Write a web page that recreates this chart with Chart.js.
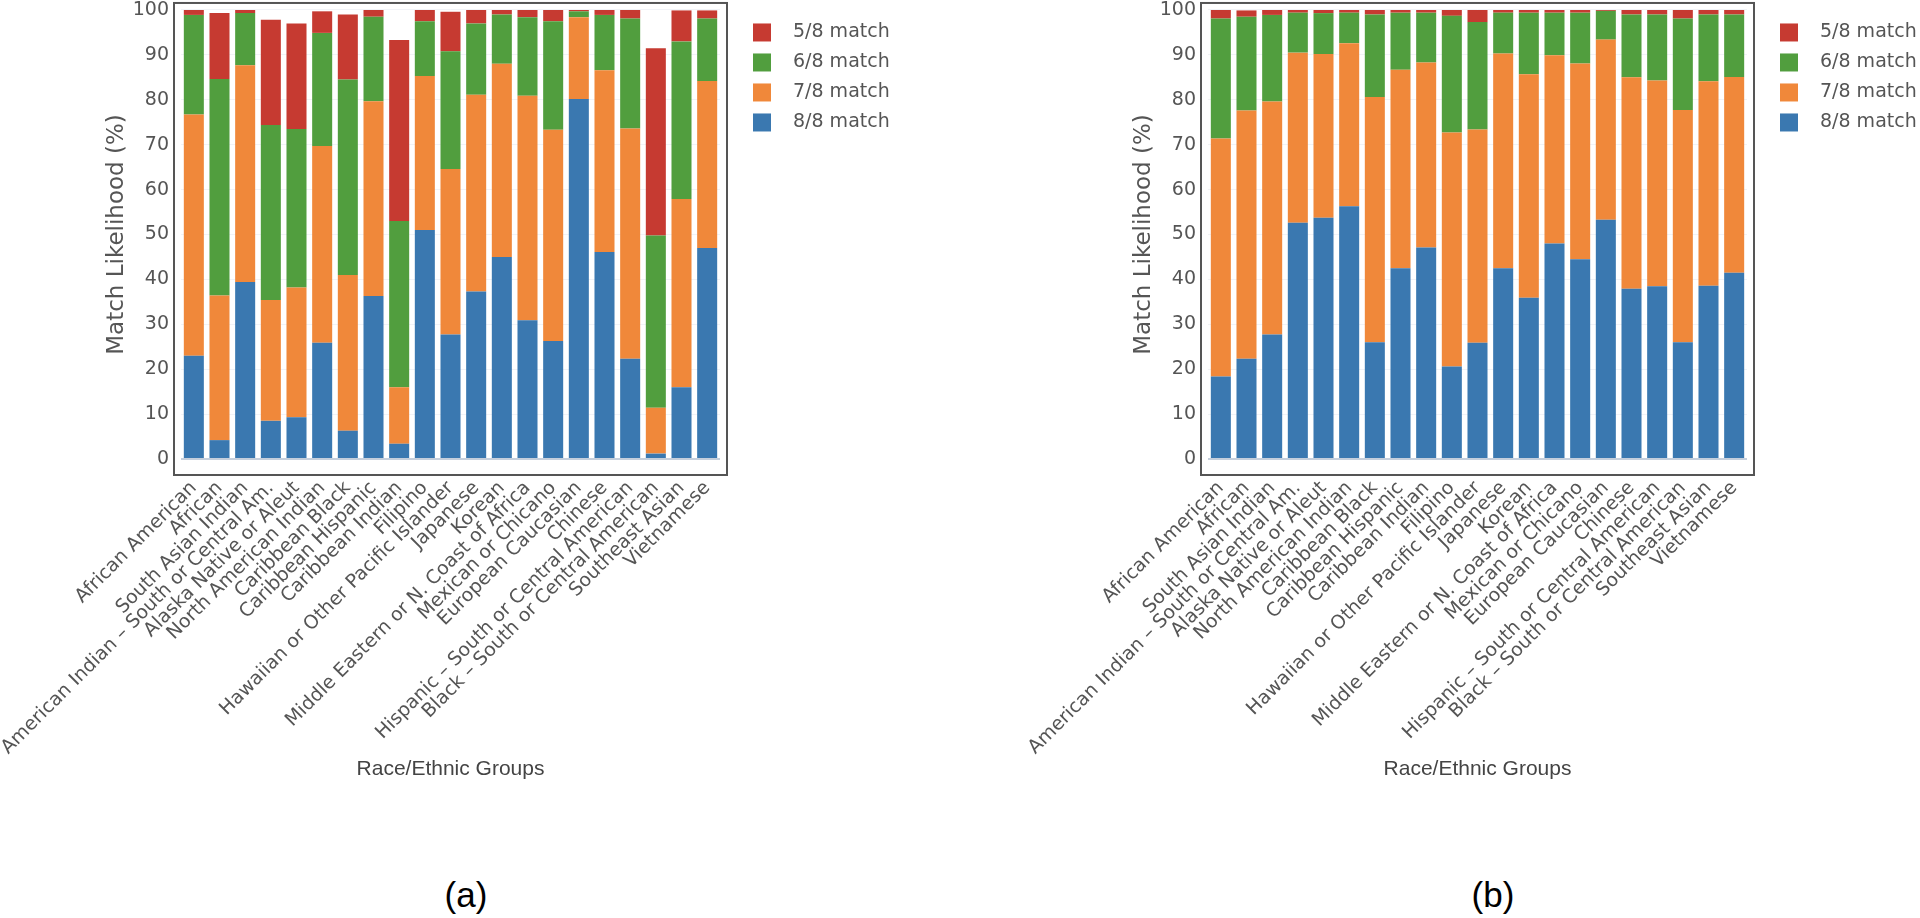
<!DOCTYPE html>
<html lang="en">
<head>
<meta charset="UTF-8">
<title>Match Likelihood by Race/Ethnic Group</title>
<style>
body {
    margin: 0;
    background: #fff;
    width: 1920px;
    height: 918px;
    position: relative;
    overflow: hidden;
}
.panel {
    position: absolute;
    top: 0;
}
.cap {
    position: absolute;
    top: 875px;
    line-height: 40px;
    font-family: "Liberation Sans", sans-serif;
    font-size: 35px;
    color: #000;
    transform: translateX(-50%);
}
</style>
</head>
<body>
<div class="panel" style="left:0px"><canvas id="chartA" width="893" height="782"></canvas></div>
<div class="panel" style="left:1027px"><canvas id="chartB" width="893" height="782"></canvas></div>
<div class="cap" style="left:466px">(a)</div>
<div class="cap" style="left:1493px">(b)</div>

<script src="https://cdn.jsdelivr.net/npm/chart.js"></script>
<script>
const groups = [
    'African American', 'African', 'South Asian Indian',
    'American Indian – South or Central Am.', 'Alaska Native or Aleut',
    'North American Indian', 'Caribbean Black', 'Caribbean Hispanic',
    'Caribbean Indian', 'Filipino', 'Hawaiian or Other Pacific Islander',
    'Japanese', 'Korean', 'Middle Eastern or N. Coast of Africa',
    'Mexican or Chicano', 'European Caucasian', 'Chinese',
    'Hispanic – South or Central American', 'Black – South or Central American',
    'Southeast Asian', 'Vietnamese'
];
const seriesNames = ['8/8 match', '7/8 match', '6/8 match', '5/8 match'];
const seriesColors = ['#3a78b0', '#f0883a', '#519e3e', '#c63a31'];

// panel (a)
const a88 = [23.0, 4.2, 39.4, 8.5, 9.3, 25.9, 6.3, 36.3, 3.4, 51.0, 27.7, 37.3, 45.0, 30.9, 26.3, 80.2, 46.1, 22.3, 1.2, 16.0, 47.0];
const a78 = [53.7, 32.2, 48.3, 26.9, 28.9, 43.8, 34.7, 43.4, 12.6, 34.3, 36.9, 43.8, 43.0, 50.0, 47.0, 18.2, 40.5, 51.3, 10.2, 41.9, 37.2];
const a68 = [22.2, 48.2, 11.6, 39.0, 35.3, 25.2, 43.5, 18.8, 37.0, 12.2, 26.2, 15.9, 11.0, 17.5, 24.2, 1.3, 12.3, 24.5, 38.4, 35.1, 13.9];
const a58 = [1.1, 14.7, 0.7, 23.4, 23.5, 4.8, 14.5, 1.5, 40.3, 2.5, 8.8, 3.0, 1.0, 1.6, 2.5, 0.3, 1.1, 1.9, 41.7, 6.9, 1.8];

// panel (b)
const b88 = [18.4, 22.3, 27.7, 52.6, 53.7, 56.3, 26.0, 42.5, 47.1, 20.6, 25.9, 42.5, 35.9, 48.0, 44.5, 53.3, 37.9, 38.5, 26.0, 38.6, 41.5];
const b78 = [53.0, 55.3, 51.9, 37.9, 36.5, 36.3, 54.6, 44.2, 41.2, 52.1, 47.5, 47.8, 49.8, 41.9, 43.6, 40.1, 47.1, 45.8, 51.7, 45.5, 43.6];
const b68 = [26.7, 20.9, 19.3, 8.9, 9.1, 6.8, 18.4, 12.7, 11.1, 26.0, 23.9, 9.1, 13.7, 9.5, 11.3, 6.4, 14.0, 14.7, 20.4, 14.9, 13.9];
const b58 = [1.9, 1.4, 1.1, 0.6, 0.7, 0.6, 1.0, 0.6, 0.6, 1.3, 2.7, 0.6, 0.6, 0.6, 0.6, 0.2, 1.0, 1.0, 1.9, 1.0, 1.0];

const yTicks = [0, 10, 20, 30, 40, 50, 60, 70, 80, 90, 100];

// box round the plot, like the original
const framePlugin = {
    id: 'frame',
    afterDraw(chart) {
        const { ctx, chartArea: c } = chart;
        ctx.save();
        ctx.strokeStyle = '#555';
        ctx.lineWidth = 2;
        ctx.strokeRect(c.left - 7, c.top - 7, c.right - c.left + 14, c.bottom - c.top + 23);
        ctx.restore();
    }
};

// legend to the right, top-aligned, 5/8 first
const sideLegend = {
    id: 'sideLegend',
    afterDraw(chart) {
        const { ctx, chartArea: c } = chart;
        ctx.save();
        ctx.font = '19px "DejaVu Sans"';
        ctx.textBaseline = 'middle';
        ctx.textAlign = 'left';
        const sets = chart.data.datasets.slice().reverse();
        sets.forEach((ds, i) => {
            const y = c.top + 22.5 + i * 30;
            ctx.fillStyle = ds.backgroundColor;
            ctx.fillRect(c.right + 33, y - 9, 18, 18);
            ctx.fillStyle = '#555';
            ctx.fillText(ds.label, c.right + 73, y);
        });
        ctx.restore();
    }
};

function makeChart(id, values) {
    const ctx = document.getElementById(id).getContext('2d');
    return new Chart(ctx, {
        type: 'bar',
        data: {
            labels: groups,
            datasets: values.map((v, i) => ({
                label: seriesNames[i],
                data: v,
                backgroundColor: seriesColors[i],
                borderWidth: 0,
                barPercentage: 0.78,
                categoryPercentage: 1.0
            }))
        },
        options: {
            responsive: false,
            animation: false,
            layout: { padding: { left: 90, top: 0, right: 173, bottom: 0 } },
            plugins: {
                legend: { display: false },
                tooltip: { enabled: false }
            },
            scales: {
                x: {
                    stacked: true,
                    grid: { display: false },
                    border: { display: false },
                    ticks: {
                        autoSkip: false,
                        minRotation: 45,
                        maxRotation: 45,
                        padding: 10,
                        color: '#555',
                        font: { family: 'DejaVu Sans', size: 19 }
                    },
                    title: {
                        display: true,
                        text: 'Race/Ethnic Groups',
                        color: '#444',
                        padding: 0,
                        font: { family: 'Liberation Sans', size: 21 }
                    },
                    afterFit(scale) { scale.height = 323; }
                },
                y: {
                    stacked: true,
                    min: 0,
                    max: 100,
                    afterBuildTicks(scale) { scale.ticks = yTicks.map(v => ({ value: v })); },
                    grid: {
                        drawTicks: true,
                        tickLength: 12,
                        tickColor: 'rgba(0,0,0,0)',
                        color: c => c.tick && c.tick.value === 0 ? '#c5cfdc' : '#f1f3f7',
                        lineWidth: c => c.tick && c.tick.value === 0 ? 2 : 1
                    },
                    border: { display: false },
                    ticks: {
                        padding: 0,
                        color: '#555',
                        font: { family: 'DejaVu Sans', size: 19, lineHeight: 1.05 }
                    },
                    title: {
                        display: true,
                        text: 'Match Likelihood (%)',
                        color: '#555',
                        padding: { top: 13, bottom: 0 },
                        font: { family: 'DejaVu Sans', size: 23 }
                    },
                    afterFit(scale) { scale.width = 91; }
                }
            }
        },
        plugins: [framePlugin, sideLegend]
    });
}

makeChart('chartA', [a88, a78, a68, a58]);
makeChart('chartB', [b88, b78, b68, b58]);
</script>
</body>
</html>
